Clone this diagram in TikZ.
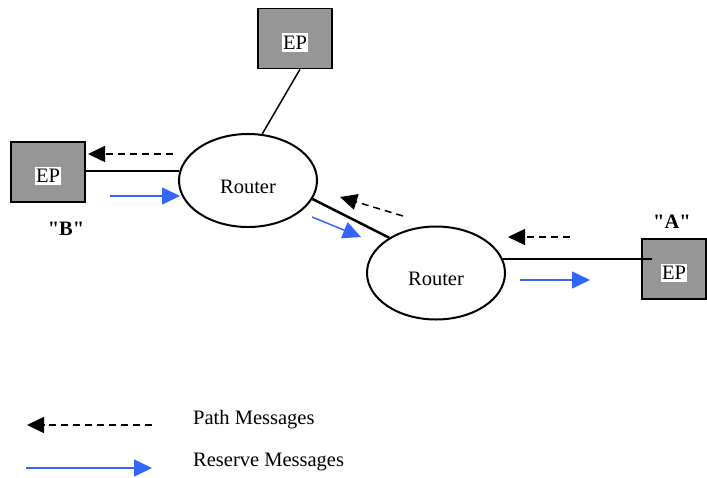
\documentclass[tikz,border=0pt]{standalone}
\usepackage{fontspec}
\setmainfont{Liberation Serif}
\newfontfamily\tagfont{Liberation Serif}[Ligatures=TeXOff]
\usetikzlibrary{positioning}
\usetikzlibrary{shapes.geometric}
\usetikzlibrary{arrows.meta}
\newcommand{\diagfont}{\fontsize{20.5}{24}\selectfont}
\definecolor{msgblue}{RGB}{51,102,255}
\tikzset{
  box/.style            = { rectangle, minimum width=74pt, minimum height=60pt, inner sep=0pt },
  border/.style         = { line width=1.5pt, draw=black },
  endpoint/.style       = { box, border, fill=black!41,
                            label={[fill=white,inner xsep=1pt,inner ysep=2.5pt,yshift=-4pt,font=\diagfont]center:EP} },
  router/.style         = { ellipse, draw=black, line width=2pt, minimum width=138pt, minimum height=93pt,
                            inner sep=0pt, label={[yshift=-6pt,font=\diagfont]center:Router} },
}
\tikzset{
  link/.style           = { line width=1.5pt, draw=black },
  trunk/.style          = { line width=2.5pt, draw=black },
  pathmsg/.style        = { line width=1.5pt, dash pattern=on 7pt off 5pt, -{Triangle[length=17pt,width=16pt]} },
  resvmsg/.style        = { line width=1.5pt, draw=msgblue, fill=msgblue, -{Triangle[length=18pt,width=17pt]} },
  tag/.style            = { font=\tagfont\diagfont\bfseries },
  caption/.style        = { font=\diagfont, anchor=base west, inner sep=0pt }
}
\begin{document}
\begin{tikzpicture}[x=1pt, y=-1pt]
  \useasboundingbox (0,0) rectangle (707,477);

  \node (epTop)   [endpoint]                     at (295,38.5) {};
  \node (epB)     [endpoint]                     at (48,172)   {};
  \node (epA)     [endpoint,minimum width=64pt]  at (674,269)  {};
  \node (router1) [router]                       at (248,180.5) {};
  \node (router2) [router]                       at (436,273)  {};
  \node (tagB)    [tag]                          at (66,229)   {"B"};
  \node (tagA)    [tag]                          at (672,222)  {"A"};

  \draw [link]  ([xshift=5pt]epTop.south) -- (router1.73);
  \draw [trunk] (router1.172) -- (router1.172 -| epB.east);
  \draw [trunk] (router1.-16) -- (router2.143);
  \draw [link]  (router2.12)  -- ([xshift=11pt]router2.12 -| epA.west);

  % messages
  \draw [pathmsg] (173,154) -- (88,154);
  \draw [pathmsg] (403,216) -- (340,197);
  \draw [pathmsg] (570,237) -- (508,237);
  \draw [resvmsg] (110,196) -- (180,196);
  \draw [resvmsg] (312,217) -- (361,237);
  \draw [resvmsg] (520,280) -- (590,280);

  % legend
  \draw [pathmsg] (152,425) -- (27,425);
  \draw [resvmsg] (26,468)  -- (152,468);
  \node (pathLabel) [caption] at (193,424) {Path Messages};
  \node (resvLabel) [caption] at (193,466) {Reserve Messages};
\end{tikzpicture}
\end{document}
